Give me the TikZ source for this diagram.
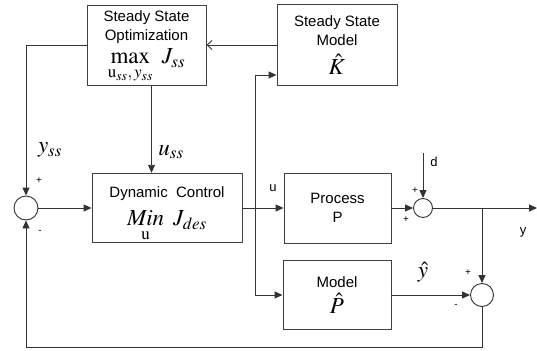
\documentclass[tikz,border=0pt]{standalone}
\usepackage{amsmath}
\usepackage{mathptmx}
\usepackage[no-math]{fontspec}
\setmainfont{Liberation Sans}
\usetikzlibrary{arrows.meta, calc}
\tikzset{
	blk/.style ={rectangle, draw=black!75, line width=0.9pt, align=center, inner sep=1pt, font=\fontsize{15}{19}\selectfont},
	sumj/.style={circle, draw=black!80, line width=0.9pt, inner sep=0pt},
	sig/.style ={-{Triangle[length=8pt,width=7pt]}, line width=0.9pt, draw=black!80},
	barb/.style={-{Straight Barb[length=5pt,width=9pt]}, line width=0.9pt, draw=black!80},
	% labels beside the signals
	lbl/.style ={font=\fontsize{13}{13}\selectfont},
	sgn/.style ={font=\fontsize{10}{10}\selectfont},
	mth/.style ={font=\fontsize{23}{23}\selectfont},
}
\newcommand{\bigmath}[1]{{\fontsize{23}{25}\selectfont #1}}

\begin{document}
\begin{tikzpicture}[x=1pt, y=-1pt]
	\useasboundingbox (0,0) rectangle (537,350);
	% blocks
	\node[blk, minimum width=119pt, minimum height=80pt] (sso) at (146.5,45)
		{\rule{0pt}{15pt}Steady State\\Optimization\\[4pt] \bigmath{$\max\limits_{\mathrm{u}_{ss},\,y_{ss}}\ J_{ss}$}};
	\node[blk, minimum width=120pt, minimum height=81pt] (ssm) at (337,45)
		{Steady State\\Model\\[8pt] \bigmath{$\hat{K}$}};
	\node[blk, minimum width=150pt, minimum height=69pt] (dyn) at (167,208)
		{\rule{0pt}{23pt}Dynamic\ \ Control\\[9pt] \bigmath{$\mathop{\mathit{Min}}\limits_{\mathrm{u}}\ J_{des}$}};
	\node[blk, minimum width=107pt, minimum height=70pt] (proc) at (337.5,208)
		{Process\\P};
	\node[blk, minimum width=108pt, minimum height=69pt] (model) at (337,295)
		{Model\\[5pt] \bigmath{$\hat{P}$}};
	% summing junctions
	\node[sumj, minimum size=24pt] (sum1) at (26,208) {};
	\node[sumj, minimum size=19pt] (sum2) at (423,208) {};
	\node[sumj, minimum size=23pt] (sum3) at (482,295) {};
	% free ends and branch points
	\coordinate (ubr) at (255,208);
	\coordinate (din) at (423,153);
	\coordinate (yout) at (537,208);
	\coordinate (ybr) at (482,208);
	\coordinate (fb) at (26,347);
	% connectors
	\draw[barb] (ssm.west) -- (sso.east);
	\draw[sig] (sso.west) -| (sum1.north);
	\draw[sig] ([xshift=5pt]sso.south) -- ([xshift=5pt]sso.south |- dyn.north);
	\draw[sig] (sum1) -- (dyn);
	\draw[sig] (dyn) -- (proc);
	\draw[sig] (ubr) |- (ssm.west |- 0,75);
	\draw[sig] (ubr) |- (model.west);
	\draw[sig] (proc) -- (sum2);
	\draw[sig] (din) -- (sum2);
	\draw[sig] (sum2) -- (yout);
	\draw[sig] (ybr) -- (sum3);
	\draw[sig] (model) -- (sum3);
	\draw[sig] (sum3) |- (fb) -- (sum1);
	% labels
	\node[mth] at (50,150) {$y_{ss}$};
	\node[mth] at (171,152) {$u_{ss}$};
	\node[sgn] at (39,181) {+};
	\node[sgn] at (40,232) {-};
	\node[lbl] at (273,188) {u};
	\node[lbl] at (434,162) {d};
	\node[sgn] at (415,191) {+};
	\node[sgn] at (406,220) {+};
	\node[lbl] at (523,232) {y};
	\node[mth] at (423,272) {$\hat{y}$};
	\node[sgn] at (468,273) {+};
	\node[sgn] at (456,306) {-};
\end{tikzpicture}
\end{document}
